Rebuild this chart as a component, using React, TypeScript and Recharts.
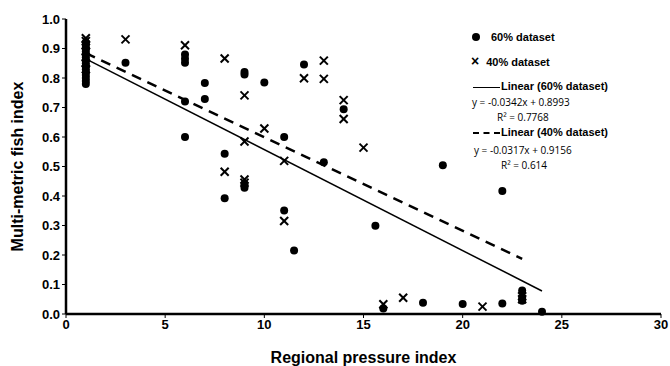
import { ScatterChart, Scatter, XAxis, YAxis } from 'recharts';

// 60% dataset (filled dots)
const dots60: [number, number][] = [
  [1, 0.78], [1, 0.79], [1, 0.8], [1, 0.81], [1, 0.82], [1, 0.83], [1, 0.84], [1, 0.85],
  [1, 0.86], [1, 0.87], [1, 0.88], [1, 0.89], [1, 0.9], [1, 0.91], [1, 0.92],
  [3, 0.852],
  [6, 0.88], [6, 0.865], [6, 0.852], [6, 0.72], [6, 0.6],
  [7, 0.783], [7, 0.729],
  [8, 0.543], [8, 0.392],
  [9, 0.82], [9, 0.812], [9, 0.44], [9, 0.428],
  [10, 0.785],
  [11, 0.6], [11, 0.351],
  [11.5, 0.215],
  [12, 0.846],
  [13, 0.514],
  [14, 0.694],
  [15.6, 0.299],
  [16, 0.019],
  [18, 0.038],
  [19, 0.504],
  [20, 0.034],
  [22, 0.417], [22, 0.036],
  [23, 0.08], [23, 0.045], [23, 0.055],
  [24, 0.008],
];

// 40% dataset (crosses)
const crosses40: [number, number][] = [
  [1, 0.83], [1, 0.85], [1, 0.87], [1, 0.89], [1, 0.91], [1, 0.925], [1, 0.935],
  [3, 0.931],
  [6, 0.911],
  [8, 0.866], [8, 0.482],
  [9, 0.741], [9, 0.585], [9, 0.456], [9, 0.445],
  [10, 0.629],
  [11, 0.519], [11, 0.315],
  [12, 0.799],
  [13, 0.859], [13, 0.797],
  [14, 0.725], [14, 0.661],
  [15, 0.564],
  [16, 0.033],
  [17, 0.055],
  [21, 0.025],
  [23, 0.06], [23, 0.05],
];

// trendline endpoints
const trend60: [number, number][] = [[1, 0.865], [24, 0.078]];
const trend40: [number, number][] = [[1, 0.884], [23, 0.187]];

const xTicks = [0, 5, 10, 15, 20, 25, 30];
const yTicks = [0, 0.1, 0.2, 0.3, 0.4, 0.5, 0.6, 0.7, 0.8, 0.9, 1.0];

const toPts = (arr: [number, number][]) => arr.map(([x, y]) => ({ x, y }));

const font = '"Liberation Sans", Arial, sans-serif';

const Dot = (props: any) => {
  const { cx, cy } = props;
  return <circle cx={cx} cy={cy} r={4} fill="#000" />;
};

const Cross = (props: any) => {
  const { cx, cy } = props;
  const s = 4;
  return (
    <g stroke="#000" strokeWidth={2}>
      <line x1={cx - s} y1={cy - s} x2={cx + s} y2={cy + s} />
      <line x1={cx - s} y1={cy + s} x2={cx + s} y2={cy - s} />
    </g>
  );
};

const NoShape = () => null;

const YLabel = (props: any) => {
  const { viewBox } = props;
  const cy = viewBox.y + viewBox.height / 2;
  return (
    <text x={17} y={cy} transform={`rotate(-90, 17, ${cy})`} textAnchor="middle" dominantBaseline="central"
      fill="#000" fontSize={16} fontWeight="bold" fontFamily={font}>
      Multi-metric fish index
    </text>
  );
};

function LegendBox() {
  const t: any = { position: 'absolute', fontFamily: font, fontWeight: 'bold', fontSize: 11, color: '#000', whiteSpace: 'nowrap' };
  const eq: any = { position: 'absolute', fontFamily: '"Open Sans", "Liberation Sans", sans-serif', fontSize: 10, color: '#000', whiteSpace: 'nowrap' };
  return (
    <>
      <div style={{ ...t, left: 472, top: 31 }}>
        <span style={{ display: 'inline-block', width: 8, height: 8, borderRadius: 4, background: '#000', marginRight: 11 }} />
        60% dataset
      </div>
      <div style={{ ...t, left: 471, top: 53 }}>
        <span style={{ fontSize: 14, marginRight: 7 }}>×</span>40% dataset
      </div>
      <div style={{ ...t, left: 473, top: 80 }}>
        <span style={{ display: 'inline-block', width: 27, height: 0, borderTop: '1.5px solid #000', verticalAlign: 'middle', marginRight: 1 }} />
        Linear (60% dataset)
      </div>
      <div style={{ ...eq, left: 472, top: 95 }}>y = -0.0342x + 0.8993</div>
      <div style={{ ...eq, left: 497, top: 110 }}>R² = 0.7768</div>
      <div style={{ ...t, left: 473, top: 126 }}>
        <span style={{ display: 'inline-block', width: 27, height: 0, borderTop: '2px dashed #000', verticalAlign: 'middle', marginRight: 1 }} />
        Linear (40% dataset)
      </div>
      <div style={{ ...eq, left: 474, top: 143 }}>y = -0.0317x + 0.9156</div>
      <div style={{ ...eq, left: 501, top: 158 }}>R² = 0.614</div>
    </>
  );
}

export default function App() {
  const tick = { fill: '#000', fontSize: 13, fontWeight: 'bold', fontFamily: font };
  return (
    <div style={{ position: 'absolute', left: 0, top: 0, width: 670, height: 366, background: '#fff' }}>
      <ScatterChart width={670} height={366} margin={{ top: 19, right: 9, bottom: 0, left: 0 }}>
        <XAxis
          type="number"
          dataKey="x"
          domain={[0, 30]}
          ticks={xTicks}
          tick={tick}
          tickSize={4}
          height={52}
          stroke="#000"
          axisLine={{ stroke: '#000', strokeWidth: 2.5 }}
          tickLine={{ stroke: '#000' }}
          label={{ value: 'Regional pressure index', position: 'insideBottom', offset: 3, style: { fill: '#000', fontSize: 16, fontWeight: 'bold', fontFamily: font } }}
        />
        <YAxis
          type="number"
          dataKey="y"
          domain={[0, 1]}
          ticks={yTicks}
          tick={tick}
          tickSize={4}
          tickFormatter={(v: number) => v.toFixed(1)}
          width={66}
          stroke="#000"
          axisLine={{ stroke: '#000', strokeWidth: 2.5 }}
          tickLine={{ stroke: '#000' }}
          label={<YLabel />}
        />
        <Scatter data={toPts(trend60)} line={{ stroke: '#000', strokeWidth: 1.5 }} shape={NoShape} isAnimationActive={false} />
        <Scatter data={toPts(trend40)} line={{ stroke: '#000', strokeWidth: 2.5, strokeDasharray: '10 7' }} shape={NoShape} isAnimationActive={false} />
        <Scatter data={toPts(dots60)} shape={Dot} isAnimationActive={false} />
        <Scatter data={toPts(crosses40)} shape={Cross} isAnimationActive={false} />
      </ScatterChart>
      <LegendBox />
    </div>
  );
}
